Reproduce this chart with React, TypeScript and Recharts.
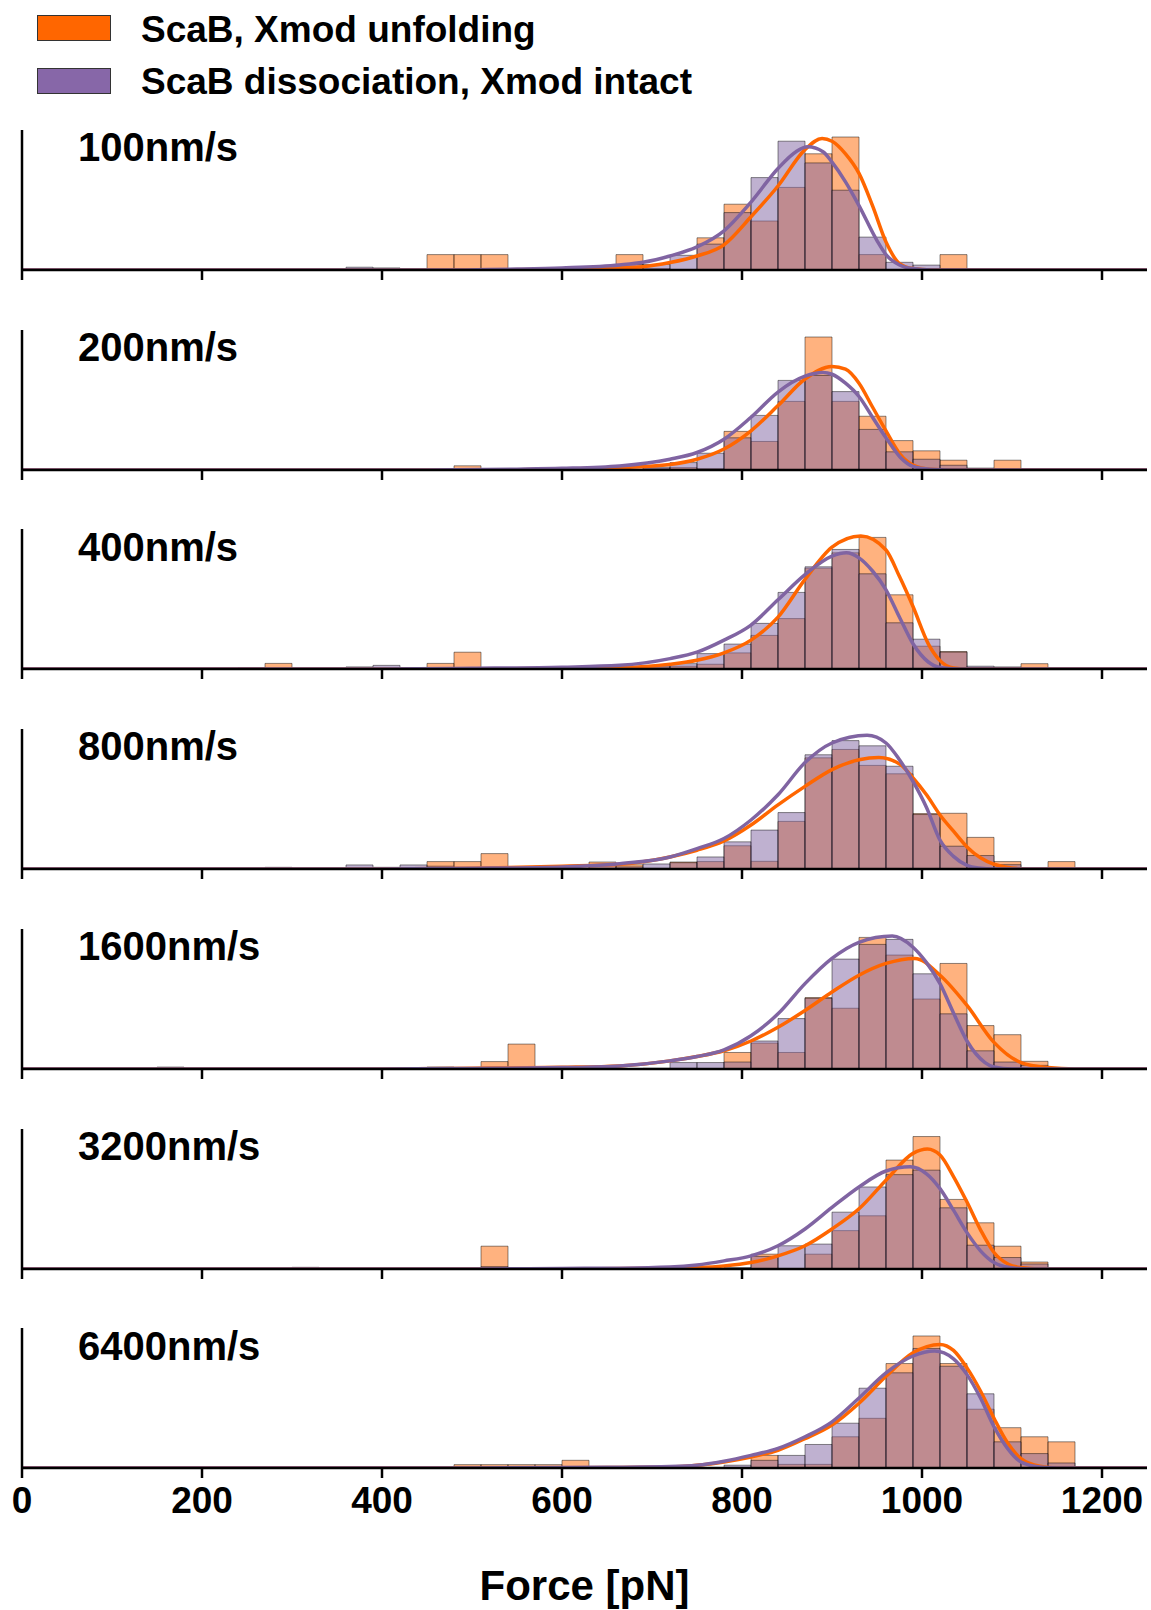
import { ComposedChart, Bar, Line, XAxis, YAxis } from 'recharts';

type Pair = [number, number];

const FONT = '"Liberation Sans", Arial, Helvetica, sans-serif';
const ORANGE = '#FF6600';
const PURPLE = '#8064A2';

// histogram bins, 30 pN wide
const BIN_WIDTH = 30;
const binStarts = [
  0, 30, 60, 90, 120, 150, 180, 210, 240, 270, 300, 330, 360, 390, 420, 450, 480, 510, 540, 570, 600,
  630, 660, 690, 720, 750, 780, 810, 840, 870, 900, 930, 960, 990, 1020, 1050, 1080, 1110, 1140, 1170,
  1200, 1230,
];
const xTicks = [0, 200, 400, 600, 800, 1000, 1200];

// bar heights, [bin start, relative frequency in % of axis]; bins not listed are empty
const unfold100: Pair[] = [[450, 11], [480, 11], [510, 11], [660, 11], [690, 1], [750, 23], [780, 47], [810, 35], [840, 59], [870, 83], [900, 95], [930, 11], [1020, 11]];
const dissoc100: Pair[] = [[360, 2], [390, 1.5], [660, 4], [690, 4], [720, 10.5], [750, 18.5], [780, 41], [810, 66], [840, 92], [870, 76.5], [900, 57], [930, 23.5], [960, 5.5], [990, 3.5]];

const unfold200: Pair[] = [[480, 3], [690, 1], [720, 1.7], [750, 1], [780, 27.6], [810, 20.4], [840, 49], [870, 95], [900, 49], [930, 38.4], [960, 21], [990, 13.7], [1020, 7], [1080, 7]];
const dissoc200: Pair[] = [[360, 0.5], [690, 2], [720, 5.3], [750, 12], [780, 23], [810, 39], [840, 64], [870, 67.5], [900, 56], [930, 29], [960, 13], [990, 7.7], [1020, 3.4], [1050, 1.4]];

const unfold400: Pair[] = [[270, 4], [450, 4], [480, 12], [660, 0.5], [690, 1.4], [720, 2], [750, 3.4], [780, 11.5], [810, 24], [840, 36], [870, 72], [900, 83], [930, 94], [960, 53], [990, 16.3], [1020, 12.5], [1110, 3.8]];
const dissoc400: Pair[] = [[240, 1], [360, 1.5], [390, 2.6], [660, 1], [690, 2.2], [720, 3.8], [750, 11], [780, 17.8], [810, 32.6], [840, 54.7], [870, 73], [900, 85.4], [930, 68], [960, 33], [990, 21.3], [1020, 12], [1050, 2], [1080, 1.5]];

const unfold800: Pair[] = [[450, 5.3], [480, 5.3], [510, 11], [630, 5], [660, 3], [690, 0.5], [720, 5], [750, 5.3], [780, 16.6], [810, 5.5], [840, 34], [870, 79.4], [900, 85.4], [930, 74], [960, 68], [990, 39.6], [1020, 39.8], [1050, 22.6], [1080, 5.3], [1140, 5.3]];
const dissoc800: Pair[] = [[270, 1.2], [360, 2.9], [390, 1.2], [420, 2.9], [450, 2], [630, 3], [660, 1.5], [690, 3.6], [720, 4.5], [750, 8.6], [780, 19.4], [810, 27.8], [840, 40.3], [870, 81.6], [900, 91.7], [930, 88], [960, 73.4], [990, 38.9], [1020, 16.3], [1050, 9.6], [1080, 3.1]];

const unfold1600: Pair[] = [[510, 5.3], [540, 17.8], [720, 0.5], [780, 11.8], [810, 18.5], [840, 11.8], [870, 51], [900, 43.4], [930, 94], [960, 81.4], [990, 50], [1020, 75.4], [1050, 31], [1080, 24.5], [1110, 5.5]];
const dissoc1600: Pair[] = [[150, 1.4], [450, 1.4], [510, 1], [690, 0.5], [720, 4.6], [750, 4.6], [780, 5], [810, 20], [840, 36], [870, 50.5], [900, 78.5], [930, 89], [960, 92.6], [990, 68], [1020, 39.4], [1050, 13], [1080, 5], [1110, 2.6]];

const unfold3200: Pair[] = [[510, 16.3], [810, 10.6], [870, 10.6], [900, 27.4], [930, 38], [960, 77.8], [990, 94.6], [1020, 49.7], [1050, 33], [1080, 16.3], [1110, 5]];
const dissoc3200: Pair[] = [[300, 1.2], [330, 0.5], [450, 0.5], [510, 1.7], [780, 1], [810, 9], [840, 16.6], [870, 17.8], [900, 40.6], [930, 58.6], [960, 67.4], [990, 70.6], [1020, 43.7], [1050, 17], [1080, 8.2], [1110, 3.6]];

const unfold6400: Pair[] = [[480, 2.4], [510, 2.4], [540, 2.4], [570, 2.4], [600, 5.5], [810, 9], [840, 2.6], [870, 2.6], [900, 22.3], [930, 35.5], [960, 74.6], [990, 94.3], [1020, 74.6], [1050, 42], [1080, 28.8], [1110, 22.3], [1140, 18.7]];
const dissoc6400: Pair[] = [[420, 0.5], [780, 2], [810, 5.5], [840, 9], [870, 16.8], [900, 32], [930, 57], [960, 68], [990, 85.4], [1020, 72.7], [1050, 53], [1080, 18.7], [1110, 10.3], [1140, 3.6]];

// fitted curves, [force, value]
const unfoldFit100: Pair[] = [[0, 0], [500, 0], [600, 0.5], [664, 1.7], [690, 2.4], [720, 5.3], [750, 10], [780, 18], [810, 38], [840, 60], [870, 86], [889, 94], [900, 92], [915, 83], [930, 69], [945, 46], [960, 20], [975, 4.6], [990, 1], [1010, 0], [1250, 0]];
const dissocFit100: Pair[] = [[0, 0], [450, 0], [550, 0.7], [600, 1.5], [664, 3.6], [690, 5.5], [720, 10], [750, 16.5], [780, 28], [810, 48.5], [840, 72.5], [860, 84.5], [873, 88], [890, 84.5], [900, 77], [915, 63], [930, 46], [950, 21], [960, 11], [975, 3.6], [990, 1], [1010, 0], [1250, 0]];

const unfoldFit200: Pair[] = [[0, 0], [500, 0], [600, 0.7], [664, 1.7], [720, 4], [750, 7.7], [780, 15], [810, 28], [840, 46], [870, 65], [900, 74], [915, 72], [930, 62], [945, 45], [960, 28], [976, 11], [990, 3.6], [1010, 0.5], [1030, 0], [1250, 0]];
const dissocFit200: Pair[] = [[0, 0], [450, 0], [550, 0.6], [600, 1.2], [664, 2.9], [720, 7.7], [750, 12.5], [780, 22], [810, 37.7], [840, 55.7], [870, 67], [890, 69.6], [900, 68.4], [915, 62], [930, 52.5], [945, 37.7], [960, 23], [976, 9], [990, 2.6], [1010, 0.5], [1030, 0], [1250, 0]];

const unfoldFit400: Pair[] = [[0, 0], [500, 0], [600, 0.5], [664, 1], [720, 3.4], [750, 6.2], [780, 11.5], [810, 20.6], [840, 37], [870, 64], [900, 87], [932, 95], [960, 85], [975, 66], [990, 44.6], [1007, 18], [1020, 6], [1035, 0.7], [1050, 0], [1250, 0]];
const dissocFit400: Pair[] = [[0, 0], [400, 0], [500, 0.5], [600, 1.3], [664, 2.6], [720, 7.4], [750, 12], [780, 20.6], [810, 31.4], [840, 49.4], [870, 67.4], [900, 80.6], [916, 83], [930, 79.4], [945, 70], [960, 56.6], [975, 37], [990, 18], [1007, 5], [1020, 1], [1040, 0], [1250, 0]];

const unfoldFit800: Pair[] = [[0, 0], [400, 0], [500, 0.5], [600, 2], [664, 3.4], [720, 8.6], [750, 13.4], [780, 20], [810, 31.4], [840, 45.8], [870, 59], [900, 71], [930, 78], [952, 79.7], [976, 74.6], [990, 65], [1005, 53], [1020, 38.6], [1035, 27], [1050, 15.8], [1065, 8], [1080, 3.4], [1110, 0.2], [1130, 0], [1250, 0]];
const dissocFit800: Pair[] = [[0, 0], [400, 0], [500, 0.5], [600, 1.5], [664, 3.8], [720, 8.6], [750, 14.6], [780, 21.8], [810, 35], [840, 53], [870, 76], [900, 90], [939, 95.5], [960, 90], [975, 78], [990, 62.6], [1005, 44], [1020, 20.6], [1035, 9], [1050, 2.6], [1063, 0.7], [1080, 0], [1250, 0]];

const unfoldFit1600: Pair[] = [[0, 0], [400, 0], [500, 0.5], [600, 1.2], [664, 2.2], [720, 5.8], [750, 8.9], [780, 13], [810, 20], [840, 29.8], [870, 41.8], [900, 55], [930, 67], [960, 75.4], [992, 79], [1020, 67], [1050, 45.4], [1080, 19], [1110, 4.6], [1140, 1], [1170, 0], [1250, 0]];
const dissocFit1600: Pair[] = [[0, 0], [400, 0], [500, 0.4], [600, 1], [664, 2.2], [720, 5.8], [750, 8.9], [780, 13.7], [810, 23.8], [840, 39.4], [870, 61], [900, 79], [930, 90.5], [967, 95], [990, 87], [1005, 76], [1020, 61], [1035, 40], [1050, 20], [1070, 4.6], [1080, 1.4], [1100, 0], [1250, 0]];

const unfoldFit3200: Pair[] = [[0, 0], [600, 0], [720, 0.5], [750, 1], [780, 2.2], [810, 4.6], [840, 9.4], [870, 16.6], [900, 28.6], [930, 43], [960, 63.4], [990, 82.6], [1006, 85.7], [1020, 81.4], [1035, 66], [1050, 47.8], [1065, 28], [1080, 11.8], [1096, 3.4], [1110, 1], [1130, 0], [1250, 0]];
const dissocFit3200: Pair[] = [[0, 0], [500, 0], [600, 0.4], [664, 0.6], [720, 1.4], [750, 2.9], [780, 5.8], [810, 9.4], [840, 16.6], [870, 28.6], [900, 44], [930, 58.6], [960, 70], [987, 73], [1005, 68], [1020, 57.4], [1035, 42], [1050, 26], [1065, 13], [1080, 4.6], [1096, 1.2], [1120, 0], [1250, 0]];

const unfoldFit6400: Pair[] = [[0, 0], [500, 0], [650, 0.3], [720, 0.7], [750, 1.9], [780, 4.3], [810, 7.9], [840, 12.7], [870, 21], [900, 30.7], [930, 46.3], [960, 65.5], [990, 82.3], [1020, 88.3], [1035, 84], [1050, 71.5], [1065, 55], [1080, 35.5], [1095, 18], [1110, 6.7], [1131, 1.2], [1150, 0], [1250, 0]];
const dissocFit6400: Pair[] = [[0, 0], [500, 0], [650, 0.5], [720, 1], [750, 1.9], [780, 4.8], [810, 9], [840, 14], [870, 22.3], [900, 33], [930, 50], [960, 68], [990, 80], [1014, 83.5], [1035, 78], [1050, 66.7], [1065, 50], [1080, 29.5], [1095, 14], [1110, 4.3], [1131, 0.7], [1150, 0], [1250, 0]];

const speeds = ['100nm/s', '200nm/s', '400nm/s', '800nm/s', '1600nm/s', '3200nm/s', '6400nm/s'];
const unfoldBars = [unfold100, unfold200, unfold400, unfold800, unfold1600, unfold3200, unfold6400];
const dissocBars = [dissoc100, dissoc200, dissoc400, dissoc800, dissoc1600, dissoc3200, dissoc6400];
const unfoldFits = [unfoldFit100, unfoldFit200, unfoldFit400, unfoldFit800, unfoldFit1600, unfoldFit3200, unfoldFit6400];
const dissocFits = [dissocFit100, dissocFit200, dissocFit400, dissocFit800, dissocFit1600, dissocFit3200, dissocFit6400];

const PANEL_TOP = 130;
const PANEL_STEP = 199.7;
const PLOT_H = 140;
const TICK_LEN = 10;

function toRows(unfold: Pair[], dissoc: Pair[]) {
  const u = new Map(unfold);
  const d = new Map(dissoc);
  return binStarts.map((s) => ({ x: s + BIN_WIDTH / 2, unfold: u.get(s) ?? 0, dissoc: d.get(s) ?? 0 }));
}

const toPoints = (pairs: Pair[]) => pairs.map(([x, y]) => ({ x, y }));

// draws the tick mark itself, plus the number on the bottom panel
function makeTick(withLabel: boolean) {
  return (props: any) => {
    const { x, y, payload } = props;
    const base = y - TICK_LEN - 9;
    return (
      <g>
        <line x1={x} x2={x} y1={base} y2={base + TICK_LEN} stroke="#000" strokeWidth={2.5} />
        {withLabel && (
          <text
            x={x}
            y={base + TICK_LEN + 9}
            dy="0.71em"
            textAnchor="middle"
            fontSize={37}
            fontWeight="bold"
            fontFamily={FONT}
            fill="#000"
          >
            {payload.value}
          </text>
        )}
      </g>
    );
  };
}

function Panel({ index }: { index: number }) {
  const last = index === speeds.length - 1;
  const axisH = last ? 60 : 14;
  const top = PANEL_TOP + index * PANEL_STEP;
  return (
    <div style={{ position: 'absolute', left: 0, top }}>
      <ComposedChart
        width={1151}
        height={PLOT_H + axisH}
        data={toRows(unfoldBars[index], dissocBars[index])}
        margin={{ top: 0, right: 4, bottom: 0, left: 0 }}
        barCategoryGap={0}
        barGap="-100%"
      >
        <XAxis
          dataKey="x"
          type="number"
          domain={[0, 1250]}
          ticks={xTicks}
          interval={0}
          allowDataOverflow
          height={axisH}
          tickSize={TICK_LEN}
          tickMargin={9}
          stroke="#000"
          axisLine={{ stroke: '#000', strokeWidth: 2.5 }}
          tickLine={false}
          tick={makeTick(last)}
        />
        <XAxis xAxisId="fit" dataKey="x" type="number" domain={[0, 1250]} allowDataOverflow hide />
        <YAxis
          width={22}
          domain={[0, 100]}
          allowDataOverflow
          tick={false}
          tickLine={false}
          axisLine={{ stroke: '#000', strokeWidth: 2.5 }}
        />
        <Bar dataKey="unfold" fill={ORANGE} fillOpacity={0.5} stroke="#000" strokeOpacity={0.45} strokeWidth={1} isAnimationActive={false} />
        <Bar dataKey="dissoc" fill={PURPLE} fillOpacity={0.5} stroke="#000" strokeOpacity={0.45} strokeWidth={1} isAnimationActive={false} />
        <Line xAxisId="fit" data={toPoints(unfoldFits[index])} dataKey="y" type="monotone" stroke={ORANGE} strokeWidth={3.5} dot={false} activeDot={false} isAnimationActive={false} />
        <Line xAxisId="fit" data={toPoints(dissocFits[index])} dataKey="y" type="monotone" stroke={PURPLE} strokeWidth={3.5} dot={false} activeDot={false} isAnimationActive={false} />
      </ComposedChart>
      <div
        style={{
          position: 'absolute',
          left: 78,
          top: -2.7,
          fontFamily: FONT,
          fontWeight: 'bold',
          fontSize: 40,
          lineHeight: '40px',
          whiteSpace: 'nowrap',
          color: '#000',
        }}
      >
        {speeds[index]}
      </div>
    </div>
  );
}

const legendItems = [
  { label: 'ScaB, Xmod unfolding', color: ORANGE },
  { label: 'ScaB dissociation, Xmod intact', color: '#8767A8' },
];

export default function App() {
  return (
    <div style={{ position: 'absolute', left: 0, top: 0, width: 1151, height: 1610, background: '#fff', fontFamily: FONT }}>
      {legendItems.map((item, i) => (
        <div key={item.label}>
          <div
            style={{
              position: 'absolute',
              left: 37,
              top: 15 + i * 52.5,
              width: 72,
              height: 24,
              background: item.color,
              border: '1.5px solid #333',
            }}
          />
          <div
            style={{
              position: 'absolute',
              left: 141,
              top: 10.7 + i * 52.5,
              fontSize: 37,
              lineHeight: '37px',
              fontWeight: 'bold',
              whiteSpace: 'nowrap',
              color: '#000',
            }}
          >
            {item.label}
          </div>
        </div>
      ))}
      {speeds.map((s, i) => (
        <Panel key={s} index={i} />
      ))}
      <div
        style={{
          position: 'absolute',
          left: 22,
          width: 1125,
          top: 1564.5,
          textAlign: 'center',
          fontSize: 42,
          lineHeight: '42px',
          fontWeight: 'bold',
          color: '#000',
        }}
      >
        Force [pN]
      </div>
    </div>
  );
}
